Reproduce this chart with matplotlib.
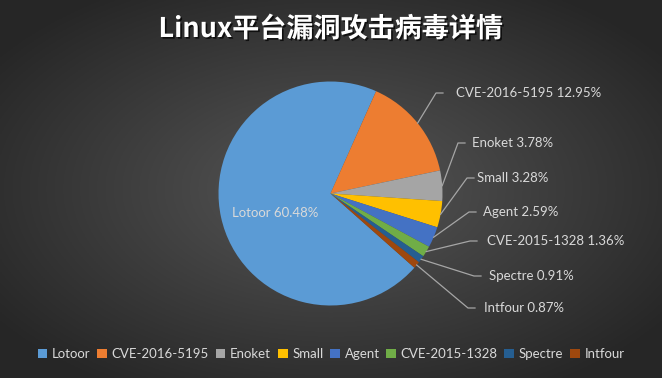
import numpy as np
import matplotlib
matplotlib.use("Agg")
from matplotlib import pyplot as plt
from matplotlib.patches import Patch
import matplotlib.patheffects as pe

plt.rcParams['font.family'] = ['Lato', 'Noto Sans CJK SC', 'DejaVu Sans']

names = ["Lotoor", "CVE-2016-5195", "Enoket", "Small", "Agent", "CVE-2015-1328", "Spectre", "Intfour"]
percents = [60.48, 12.95, 3.78, 3.28, 2.59, 1.36, 0.91, 0.87]
colors = ["#5B9BD5", "#ED7D31", "#A5A5A5", "#FFC000", "#4472C4", "#70AD47", "#255E91", "#9E480E"]
title = "Linux平台漏洞攻击病毒详情"

W, H = 662, 378
CX, CY, R = 330.5, 193.5, 112   # pie centre and radius, pixels from top-left

# outside label layout (pixels from top-left): text left x, text y, elbow x
label_pos = [None, (456, 93), (472, 143), (477, 178), (483, 212), (487, 241), (489, 276), (484, 308)]
elbow_x = [None, 436, 458, 467, 469, 470, 474, 468]


def to_data(px, py):
    return (px - CX) / R, (CY - py) / R


fig = plt.figure(figsize=(W / 100, H / 100), dpi=100)

# dark radial background
bg = fig.add_axes([0, 0, 1, 1])
yy, xx = np.mgrid[0:1:200j, 0:1:350j]
d = np.clip(np.sqrt(((xx - 0.5) / 0.62) ** 2 + ((yy - 0.5) / 0.62) ** 2), 0, 1)
shade = 0.34 - 0.19 * d
bg.imshow(np.dstack([shade, shade, shade]), aspect='auto', extent=[0, 1, 0, 1])
bg.axis('off')

ax = fig.add_axes([(CX - R) / W, (H - CY - R) / H, 2 * R / W, 2 * R / H])
wedges, _ = ax.pie(percents, colors=colors, startangle=-41.5, counterclock=False,
                   wedgeprops=dict(linewidth=0))
ax.set_aspect('auto')
ax.set_xlim(-1, 1)
ax.set_ylim(-1, 1)
ax.axis('off')

lbl_color = "#D9D9D9"
lx, ly = to_data(275, 213)
ax.text(lx, ly, "%s %.2f%%" % (names[0], percents[0]), color=lbl_color,
        fontsize=9.5, ha='center', va='center')

for i in range(1, len(names)):
    w = wedges[i]
    mid = np.deg2rad((w.theta1 + w.theta2) / 2)
    x0, y0 = np.cos(mid), np.sin(mid)
    tx, ty = label_pos[i]
    ex, ey = to_data(elbow_x[i], ty)
    hx, _ = to_data(elbow_x[i] + 7, ty)
    ax.plot([x0, ex, hx], [y0, ey, ey], color="#A6A6A6", lw=0.9, clip_on=False)
    px, py = to_data(tx, ty)
    ax.text(px, py, "%s %.2f%%" % (names[i], percents[i]), color=lbl_color,
            fontsize=9.5, ha='left', va='center', clip_on=False)

fig.text(0.5, 1 - 29 / H, title, color="white", fontsize=19.5, fontweight='bold',
         ha='center', va='center', family=['Noto Sans CJK SC', 'DejaVu Sans'],
         path_effects=[pe.withSimplePatchShadow(offset=(1.2, -1.2), shadow_rgbFace='black', alpha=0.7)])

handles = [Patch(facecolor=c, edgecolor='none') for c in colors]
fig.legend(handles, names, loc='center', bbox_to_anchor=(0.5, 1 - 354 / H), ncol=len(names),
           frameon=False, fontsize=9.5, labelcolor=lbl_color, handlelength=0.75,
           handleheight=0.75, handletextpad=0.35, columnspacing=0.5)

fig.savefig("out.png", dpi=100)
